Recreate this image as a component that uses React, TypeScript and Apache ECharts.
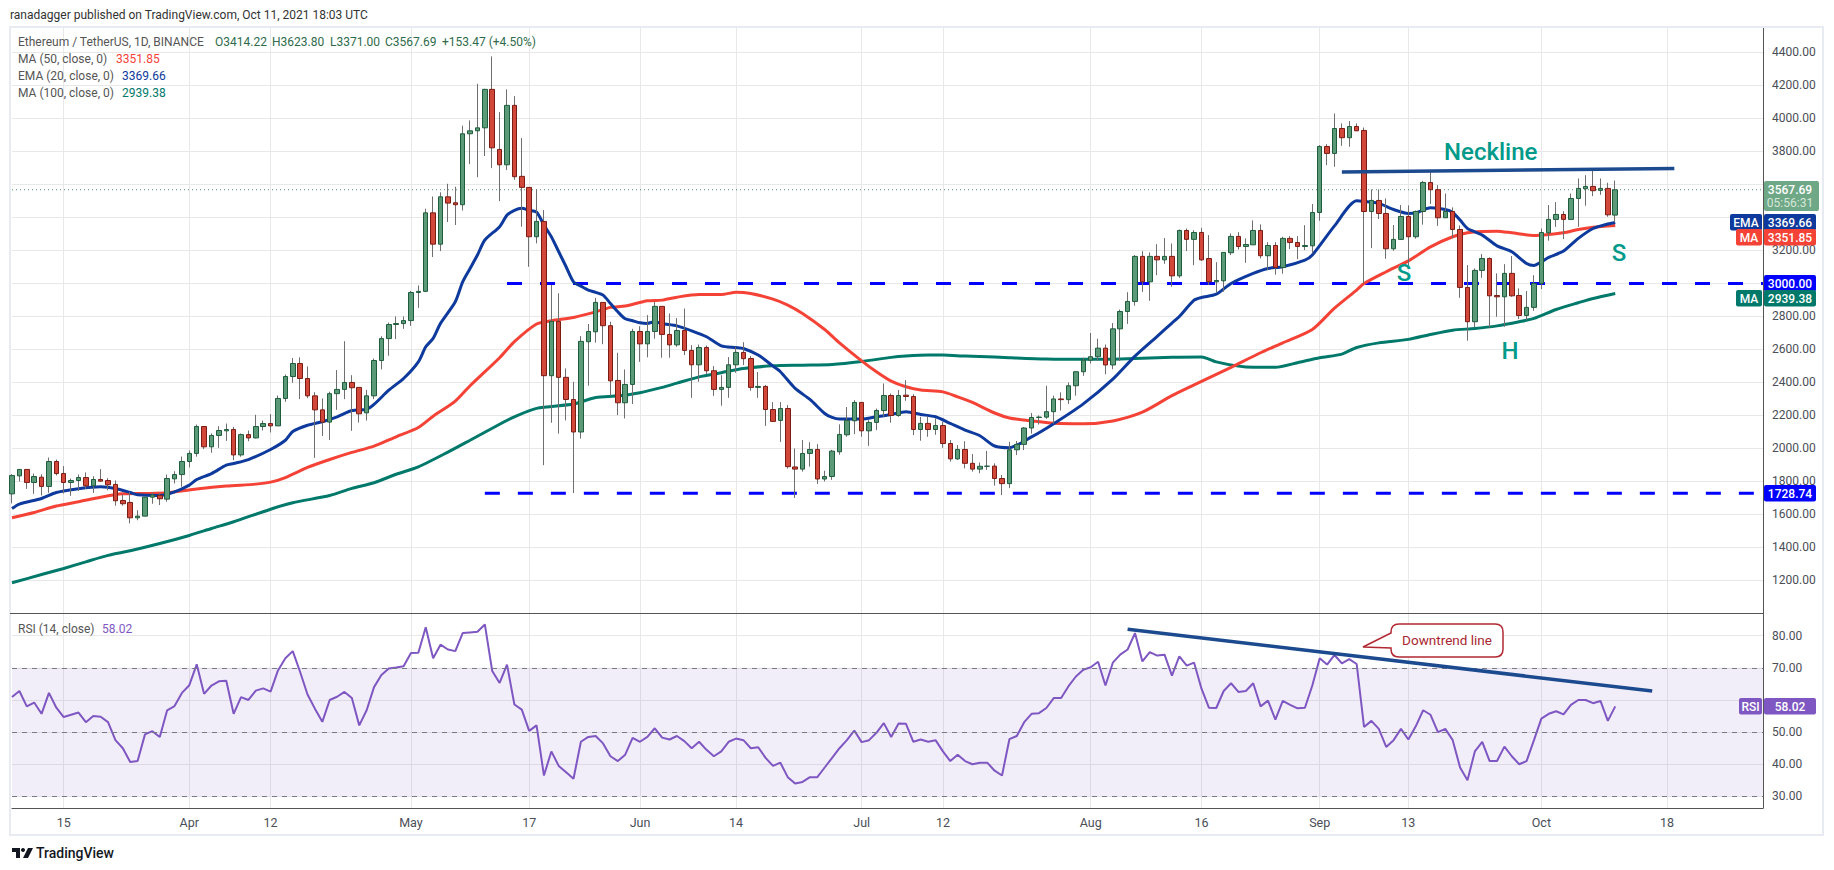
import React, { useEffect, useRef } from 'react';
import * as echarts from 'echarts';

// one row per day from 8 Mar 2021: open, close, low, high
const ohlc: number[][] = [
  [1725, 1836, 1667, 1844], [1834, 1873, 1800, 1875], [1873, 1794, 1755, 1873], [1794, 1830, 1725, 1848], [1826, 1770, 1715, 1844],
  [1770, 1921, 1731, 1945], [1921, 1848, 1836, 1933], [1848, 1794, 1727, 1893], [1794, 1806, 1713, 1818], [1806, 1824, 1743, 1842],
  [1824, 1774, 1754, 1855], [1774, 1812, 1731, 1832], [1812, 1802, 1798, 1875], [1806, 1780, 1747, 1820], [1782, 1683, 1653, 1806],
  [1685, 1665, 1653, 1723], [1673, 1580, 1546, 1737], [1580, 1590, 1565, 1626], [1590, 1705, 1590, 1705], [1705, 1718, 1665, 1733],
  [1716, 1695, 1657, 1731], [1693, 1818, 1677, 1842], [1816, 1842, 1788, 1862], [1842, 1921, 1768, 1951], [1921, 1970, 1885, 1988],
  [1970, 2133, 1950, 2145], [2133, 2010, 1996, 2133], [2010, 2079, 1974, 2091], [2079, 2109, 2004, 2135], [2107, 2115, 2046, 2151],
  [2115, 1961, 1929, 2131], [1961, 2084, 1950, 2091], [2084, 2064, 2044, 2109], [2064, 2133, 2060, 2204], [2133, 2151, 2109, 2169],
  [2151, 2137, 2097, 2208], [2137, 2303, 2137, 2321], [2303, 2436, 2283, 2448], [2436, 2515, 2398, 2548], [2515, 2424, 2299, 2552],
  [2424, 2319, 2305, 2497], [2319, 2234, 1943, 2341], [2234, 2160, 2076, 2303], [2160, 2332, 2051, 2344], [2332, 2358, 2234, 2475],
  [2358, 2400, 2299, 2650], [2400, 2368, 2107, 2444], [2370, 2210, 2157, 2370], [2216, 2319, 2169, 2355], [2319, 2533, 2299, 2545],
  [2533, 2666, 2479, 2680], [2666, 2751, 2562, 2763], [2751, 2757, 2663, 2800], [2757, 2775, 2725, 2800], [2775, 2945, 2743, 2955],
  [2945, 2952, 2852, 2988], [2952, 3428, 2950, 3453], [3428, 3238, 3160, 3527], [3238, 3525, 3196, 3552], [3525, 3487, 3372, 3604],
  [3489, 3477, 3354, 3586], [3477, 3907, 3442, 3956], [3907, 3925, 3723, 3988], [3925, 3943, 3644, 4210], [3943, 4176, 3772, 4180],
  [4176, 3822, 3699, 4376], [3812, 3719, 3499, 4038], [3719, 4079, 3687, 4176], [4079, 3647, 3628, 4135], [3649, 3582, 3344, 3881],
  [3582, 3283, 3101, 3582], [3283, 3376, 3243, 3570], [3376, 2441, 1899, 3445], [2441, 2770, 2156, 2990], [2770, 2431, 2090, 2940],
  [2431, 2297, 2170, 2485], [2297, 2100, 1730, 2404], [2100, 2649, 2060, 2681], [2647, 2709, 2380, 2754], [2707, 2885, 2641, 2913],
  [2885, 2744, 2632, 2885], [2744, 2410, 2319, 2768], [2412, 2277, 2202, 2580], [2277, 2388, 2182, 2479], [2388, 2709, 2269, 2725],
  [2709, 2634, 2525, 2741], [2634, 2709, 2552, 2808], [2709, 2861, 2665, 2888], [2861, 2691, 2550, 2861], [2691, 2628, 2550, 2818],
  [2628, 2715, 2616, 2790], [2715, 2594, 2566, 2848], [2594, 2507, 2307, 2626], [2507, 2612, 2404, 2630], [2612, 2471, 2450, 2624],
  [2471, 2358, 2319, 2499], [2358, 2370, 2259, 2444], [2370, 2507, 2307, 2554], [2507, 2582, 2459, 2616], [2582, 2544, 2505, 2644],
  [2545, 2370, 2350, 2560], [2370, 2376, 2307, 2463], [2376, 2236, 2137, 2384], [2236, 2164, 2164, 2281], [2170, 2242, 2040, 2281],
  [2242, 1890, 1878, 2263], [1888, 1875, 1700, 2000], [1875, 1970, 1860, 2051], [1970, 1994, 1890, 2038], [1994, 1815, 1785, 2026],
  [1815, 1830, 1800, 1865], [1830, 1984, 1810, 1992], [1980, 2085, 1962, 2146], [2083, 2170, 2071, 2251], [2168, 2279, 2087, 2293],
  [2279, 2107, 2071, 2279], [2107, 2158, 2016, 2172], [2158, 2230, 2111, 2242], [2230, 2321, 2192, 2394], [2321, 2200, 2156, 2333],
  [2200, 2321, 2192, 2354], [2323, 2315, 2289, 2414], [2315, 2115, 2081, 2329], [2115, 2152, 2047, 2192], [2152, 2115, 2071, 2196],
  [2115, 2139, 2083, 2182], [2139, 2030, 2004, 2162], [2030, 1937, 1920, 2051], [1937, 1994, 1930, 2020], [1994, 1910, 1880, 2044],
  [1910, 1875, 1860, 1966], [1875, 1892, 1850, 1915], [1892, 1893, 1870, 1985], [1893, 1818, 1775, 1910], [1818, 1787, 1717, 1840],
  [1787, 1992, 1760, 2040], [1992, 2025, 1960, 2045], [2025, 2124, 1990, 2130], [2124, 2188, 2090, 2215], [2188, 2190, 2145, 2200],
  [2190, 2223, 2180, 2380], [2223, 2300, 2150, 2320], [2300, 2296, 2230, 2340], [2296, 2380, 2270, 2400], [2380, 2465, 2320, 2470],
  [2465, 2535, 2440, 2550], [2535, 2556, 2515, 2700], [2556, 2608, 2530, 2665], [2608, 2506, 2450, 2630], [2506, 2725, 2480, 2760],
  [2725, 2830, 2530, 2842], [2830, 2891, 2755, 2947], [2891, 3164, 2865, 3172], [3164, 3010, 2949, 3196], [3010, 3164, 2895, 3188],
  [3164, 3143, 3050, 3238], [3143, 3164, 3119, 3275], [3164, 3046, 2980, 3242], [3046, 3321, 3034, 3327], [3321, 3267, 3196, 3333],
  [3267, 3309, 3111, 3323], [3309, 3143, 3137, 3337], [3151, 3010, 2990, 3293], [3010, 3018, 2945, 3129], [3016, 3188, 2950, 3188],
  [3186, 3285, 3172, 3303], [3285, 3224, 3206, 3311], [3224, 3236, 3125, 3273], [3234, 3321, 3234, 3382], [3321, 3168, 3152, 3358],
  [3168, 3230, 3081, 3250], [3230, 3097, 3053, 3250], [3097, 3273, 3059, 3283], [3273, 3248, 3208, 3287], [3248, 3224, 3147, 3287],
  [3224, 3230, 3202, 3353], [3228, 3430, 3182, 3481], [3430, 3830, 3380, 3838], [3830, 3788, 3717, 3844], [3788, 3939, 3707, 4030],
  [3939, 3883, 3834, 3970], [3883, 3951, 3828, 3984], [3951, 3925, 3925, 3970], [3927, 3436, 3000, 3945], [3436, 3503, 3214, 3570],
  [3503, 3424, 3390, 3570], [3424, 3210, 3149, 3515], [3210, 3267, 3198, 3354], [3267, 3406, 3263, 3475], [3406, 3283, 3109, 3473],
  [3283, 3436, 3271, 3442], [3436, 3612, 3356, 3622], [3612, 3568, 3481, 3677], [3568, 3398, 3349, 3596], [3398, 3436, 3398, 3545],
  [3436, 3327, 3275, 3461], [3327, 2976, 2913, 3351], [2976, 2768, 2653, 3111], [2768, 3079, 2733, 3091], [3079, 3151, 3034, 3178],
  [3151, 2925, 2733, 3158], [2927, 2919, 2798, 3061], [2919, 3061, 2737, 3117], [3061, 2925, 2919, 3166], [2927, 2806, 2784, 2970],
  [2806, 2855, 2778, 2954], [2855, 3000, 2834, 3050], [3000, 3309, 2966, 3333], [3307, 3388, 3259, 3475], [3388, 3418, 3343, 3493],
  [3418, 3388, 3269, 3438], [3388, 3515, 3388, 3545], [3515, 3576, 3343, 3636], [3574, 3588, 3471, 3656], [3588, 3562, 3529, 3697],
  [3564, 3576, 3537, 3636], [3576, 3416, 3404, 3610], [3414.22, 3567.69, 3371, 3623.8],
];

// [day index, value] read along each moving average
const ema20: number[][] = [
  [0, 1636], [1, 1663], [4, 1697], [6, 1733], [9, 1756], [12, 1768], [14, 1758], [16, 1733], [17, 1719], [20, 1715], [22, 1737], [24, 1778],
  [25, 1812], [27, 1848], [29, 1899], [30, 1909], [32, 1933], [35, 1994], [37, 2050], [38, 2103], [40, 2141], [42, 2162], [44, 2192], [46, 2230],
  [48, 2238], [49, 2267], [51, 2353], [53, 2424], [55, 2525], [56, 2616], [57, 2667], [58, 2758], [60, 2889], [61, 3010], [62, 3091], [63, 3172],
  [64, 3263], [66, 3344], [67, 3414], [68, 3443], [69, 3455], [70, 3443], [71, 3432], [72, 3354], [73, 3283], [74, 3192], [75, 3101], [76, 3010],
  [77, 2984], [78, 2960], [79, 2946], [80, 2929], [81, 2879], [82, 2828], [83, 2786], [84, 2774], [85, 2762], [86, 2758], [87, 2768], [88, 2756],
  [90, 2743], [92, 2713], [94, 2677], [96, 2622], [98, 2612], [99, 2606], [101, 2566], [103, 2499], [104, 2465], [106, 2364], [108, 2297], [110, 2212],
  [111, 2188], [112, 2178], [115, 2178], [117, 2192], [119, 2206], [121, 2222], [123, 2206], [125, 2192], [127, 2152], [129, 2111], [131, 2077],
  [133, 2015], [135, 2005], [138, 2070], [141, 2150], [145, 2270], [149, 2420], [152, 2560], [155, 2680], [157, 2760], [158, 2800], [160, 2899],
  [161, 2915], [163, 2935], [165, 3000], [168, 3061], [170, 3091], [172, 3101], [175, 3141], [176, 3172], [179, 3349], [182, 3501], [183, 3497],
  [185, 3485], [187, 3448], [189, 3424], [190, 3428], [192, 3458], [194, 3448], [195, 3430], [196, 3384], [197, 3333], [199, 3293], [201, 3228],
  [203, 3192], [205, 3121], [206, 3109], [207, 3131], [208, 3158], [210, 3196], [212, 3273], [214, 3333], [216, 3360], [217, 3369.66],
];
const ma50: number[][] = [
  [0, 1580], [3, 1612], [6, 1651], [9, 1677], [12, 1705], [15, 1725], [18, 1727], [21, 1731], [25, 1754], [29, 1772], [33, 1784], [35, 1796],
  [37, 1824], [40, 1885], [43, 1933], [46, 1976], [49, 2014], [52, 2071], [55, 2127], [57, 2195], [60, 2287], [62, 2380], [66, 2550], [68, 2647],
  [71, 2754], [73, 2774], [76, 2794], [79, 2828], [81, 2855], [83, 2863], [86, 2895], [88, 2899], [90, 2917], [93, 2933], [96, 2933], [98, 2947],
  [100, 2939], [103, 2905], [105, 2869], [107, 2818], [110, 2721], [112, 2640], [115, 2531], [117, 2465], [119, 2408], [121, 2374], [123, 2354],
  [126, 2343], [128, 2313], [130, 2279], [133, 2215], [135, 2185], [138, 2167], [141, 2153], [145, 2150], [149, 2167], [153, 2220], [157, 2320],
  [160, 2385], [165, 2492], [169, 2580], [172, 2640], [176, 2721], [179, 2850], [182, 2960], [183, 3000], [186, 3071], [189, 3137], [192, 3222],
  [195, 3283], [197, 3307], [199, 3315], [201, 3317], [203, 3307], [206, 3291], [208, 3297], [210, 3307], [212, 3327], [214, 3341], [217, 3351.85],
];
const ma100: number[][] = [
  [0, 1186], [4, 1236], [7, 1273], [10, 1313], [13, 1352], [16, 1380], [20, 1424], [24, 1473], [27, 1515], [30, 1556], [35, 1632], [38, 1671],
  [43, 1715], [46, 1758], [49, 1792], [52, 1844], [55, 1889], [59, 1978], [62, 2050], [66, 2147], [68, 2192], [71, 2243], [76, 2269], [79, 2309],
  [82, 2319], [85, 2338], [88, 2370], [90, 2396], [93, 2434], [96, 2459], [99, 2485], [103, 2501], [107, 2505], [111, 2509], [115, 2527], [119, 2552],
  [121, 2560], [124, 2566], [126, 2566], [129, 2560], [131, 2558], [135, 2550], [140, 2542], [145, 2540], [149, 2541], [157, 2553], [161, 2555],
  [163, 2525], [166, 2499], [168, 2492], [171, 2492], [174, 2520], [177, 2550], [180, 2572], [182, 2612], [185, 2640], [189, 2661], [192, 2691],
  [195, 2717], [198, 2727], [201, 2743], [204, 2768], [206, 2788], [209, 2842], [212, 2883], [214, 2909], [217, 2939.38],
];

const rsi: number[] = [
  60.9, 62.8, 58, 59.2, 55.7, 62.2, 57.6, 54.7, 55.4, 56.1,
  53.1, 55, 54.8, 53.1, 47.5, 45, 40.7, 41, 49.3, 50.3,
  48.5, 56.8, 58.1, 62.2, 64.6, 71.1, 61.9, 64.5, 65.8, 66,
  55.7, 60.9, 60, 62.9, 63.6, 62.6, 69.2, 73, 75.2, 68.7,
  61.7, 57.3, 53.2, 60, 61, 62.5, 60.6, 52.1, 56.8, 64,
  67.8, 69.8, 70.1, 70.5, 74.6, 74.7, 82.6, 73, 77.2, 75.7,
  75.2, 80.8, 81, 81.2, 83.5, 69, 65.3, 71, 58.6, 57,
  50.4, 52.1, 36.5, 44, 39.5, 37.5, 35.5, 47, 48.5, 48.8,
  46.5, 42.5, 41, 43, 48.2, 47, 48.5, 51.2, 48.3, 47.7,
  48.8, 47.2, 45, 47, 44.5, 42.5, 44, 47, 48, 47.5,
  45, 45.3, 42, 39.5, 40.5, 36, 34, 34.5, 36, 36,
  39, 42, 45, 47.5, 50.5, 46.9, 47.5, 49.8, 52.8, 48.5,
  52.7, 52.6, 47, 47.7, 47, 47.5, 44, 41, 43, 41,
  40, 40.5, 40.5, 38, 36.5, 47.8, 48.8, 53.1, 55.7, 55.9,
  57.5, 60.6, 60.6, 64.3, 67.3, 69.4, 70.2, 71.9, 64.5, 71.6,
  74.1, 75.7, 80.8, 72, 74.9, 73.8, 74.1, 67.6, 73.6, 70.7,
  71.6, 63.5, 57.6, 57.5, 62.8, 65.2, 62.5, 62.8, 65.2, 58,
  59.8, 53.9, 59.7, 58.5, 57.4, 57.6, 64.5, 73, 71, 74,
  71.4, 72.7, 71.2, 51.6, 53.5, 51, 45.4, 47.5, 51, 47.7,
  51.8, 56.8, 55.4, 50, 51, 47.5, 39, 35, 44, 47,
  41, 41, 45.5, 42.5, 40, 41, 47.5, 54.2, 55.7, 56.5,
  55.5, 58.5, 60, 60, 59, 59.7, 53.5, 58.02,
];

const neckline = [[180, 3676], [225, 3697]];
const downtrend = [[151, 82], [222, 62.8]];
const lastPrice = 3567.69;
const support = 3000;
const lowSupport = 1728.74;

const tickDays = [7, 24, 35, 54, 70, 85, 98, 115, 126, 146, 161, 177, 189, 207, 224];
const tickLabels = ['15', 'Apr', '12', 'May', '17', 'Jun', '14', 'Jul', '12', 'Aug', '16', 'Sep', '13', 'Oct', '18'];
const rsiTicks = [30, 40, 50, 60, 70, 80];
// these scale labels sit fully behind the coloured price boxes
const rsiLabels = [30, 40, 50, 70, 80];
const coveredPrices = [3600, 3400, 3000];

const dayCount = 238;
const days: string[] = [];
for (let i = 0; i < dayCount; i++) {
  days.push(new Date(Date.UTC(2021, 2, 8 + i)).toISOString().slice(0, 10));
}
const lastDay = dayCount - 1;

const FONT = 'Roboto, sans-serif';
const UP = '#5b9a78';
const UP_EDGE = '#1f5c3c';
const DOWN = '#d1483a';
const DOWN_EDGE = '#7b1c14';
const WICK = '#6f6f6f';
const GRID = '#e8e8e8';
const TEAL = '#009a8a';
const BLUE = '#0d3a9c';
const RED = '#f44336';
const GREEN = '#00796b';
const PURPLE = '#7e57c2';
const TREND = '#1c4a8e';

echarts.graphic.registerShape(
  'callout',
  echarts.graphic.extendPath(
    'M1399 624H1495Q1503 624 1503 632V649Q1503 657 1495 657H1399Q1391 657 1391 649V648L1363 647L1391 633V632Q1391 624 1399 624Z',
    {}
  )
);
echarts.graphic.registerShape(
  'tvlogo',
  echarts.graphic.extendPath('M0 1H8V11H4V5H0ZM11 1A2 2 0 1 0 11.01 1ZM16 1H21L16 11H11Z', {})
);

const txt = (text: string, x: number, y: number, fill: string, size = 12, extra: any = {}) => ({
  type: 'text',
  z: 20,
  style: { text, x, y, fill, font: `${extra.weight || 'normal'} ${size}px ${FONT}`, textVerticalAlign: 'middle', textAlign: extra.align || 'left' },
});

// coloured box at the price scale, with optional name tag on its left
const priceTag = (value: string, top: number, color: string, name?: string, tagLeft?: number) => {
  const out: any[] = [
    { type: 'rect', z: 19, shape: { x: 1764, y: top, width: 52, height: 16.5, r: 2 }, style: { fill: color } },
    txt(value, 1790, top + 8.5, '#ffffff', 12, { align: 'center', weight: 500 }),
  ];
  if (name) {
    out.push({ type: 'rect', z: 19, shape: { x: tagLeft, y: top, width: 1762 - (tagLeft as number), height: 16.5, r: 2 }, style: { fill: color } });
    out.push(txt(name, (tagLeft as number + 1762) / 2, top + 8.5, '#ffffff', 12, { align: 'center', weight: 500 }));
  }
  return out;
};

const hiddenTick = { show: false };

const App: React.FC = () => {
  const chartRef = useRef<HTMLDivElement>(null);

  useEffect(() => {
    document.body.style.margin = '0';
    if (!chartRef.current) return;
    const chart = echarts.init(chartRef.current, undefined, { renderer: 'svg' });

    const isTick = (index: number) => tickDays.includes(index);
    const xAxisBase = {
      type: 'category',
      data: days,
      boundaryGap: false,
      axisTick: hiddenTick,
      axisLine: { show: false },
      splitLine: { show: true, interval: isTick, lineStyle: { color: GRID, width: 1 } },
    };
    const linePart = (name: string, data: any, color: string, width = 3, z = 3, smooth: any = false) => ({
      name,
      type: 'line',
      data,
      showSymbol: false,
      symbol: 'none',
      silent: true,
      z,
      smooth,
      lineStyle: { color, width },
    });

    chart.setOption({
      animation: false,
      backgroundColor: '#ffffff',
      grid: [
        { left: 12, top: 27, width: 1751, height: 586.5 },
        { left: 12, top: 613.5, width: 1751, height: 194.5 },
      ],
      xAxis: [
        { ...xAxisBase, gridIndex: 0, axisLabel: { show: false } },
        {
          ...xAxisBase,
          gridIndex: 1,
          axisLine: { show: true, lineStyle: { color: '#555555', width: 1 } },
          axisLabel: {
            interval: isTick,
            color: '#4a4e57',
            fontFamily: FONT,
            fontSize: 12.5,
            margin: 8,
            formatter: (_: string, index: number) => tickLabels[tickDays.indexOf(index)] ?? '',
          },
        },
      ],
      yAxis: [
        {
          type: 'value',
          gridIndex: 0,
          position: 'right',
          min: 1000,
          max: 4554,
          interval: 200,
          axisLine: { show: true, lineStyle: { color: '#555555', width: 1 } },
          axisTick: hiddenTick,
          axisLabel: {
            color: '#4a4e57',
            fontFamily: FONT,
            fontSize: 12,
            margin: 9,
            showMinLabel: false,
            showMaxLabel: false,
            formatter: (v: number) => (coveredPrices.includes(v) ? '' : v.toFixed(2)),
          },
          splitLine: { show: true, lineStyle: { color: GRID, width: 1 } },
        },
        {
          type: 'value',
          gridIndex: 1,
          position: 'right',
          min: 26.4,
          max: 86.9,
          axisLine: { show: true, lineStyle: { color: '#555555', width: 1 } },
          axisTick: { show: false, customValues: rsiTicks },
          axisLabel: { customValues: rsiLabels, color: '#4a4e57', fontFamily: FONT, fontSize: 12, margin: 9, formatter: (v: number) => v.toFixed(2) },
          splitLine: { show: true, lineStyle: { color: GRID, width: 1 } },
        },
      ],
      series: [
        {
          ...linePart('Last price', [[0, lastPrice], [lastDay, lastPrice]], '#53906f', 1, 2),
          lineStyle: { color: '#53906f', width: 1, type: [1, 3] },
        },
        {
          ...linePart('3000 level', [[67, support], [lastDay, support]], '#0000ff', 3, 2),
          lineStyle: { color: '#0000ff', width: 3, type: [15, 18] },
        },
        {
          ...linePart('1728 level', [[64, lowSupport], [lastDay, lowSupport]], '#0000ff', 3, 2),
          lineStyle: { color: '#0000ff', width: 3, type: [15, 18] },
        },
        linePart('MA 100', ma100, GREEN, 3, 3, 0.25),
        linePart('MA 50', ma50, RED, 3, 3, 0.25),
        linePart('EMA 20', ema20, BLUE, 3, 3, 0.25),
        {
          name: 'Wicks',
          type: 'candlestick',
          data: ohlc,
          barWidth: 1,
          silent: true,
          z: 4,
          itemStyle: { color: WICK, color0: WICK, borderColor: WICK, borderColor0: WICK, borderWidth: 1 },
        },
        {
          name: 'ETHUSDT',
          type: 'candlestick',
          data: ohlc.map(([o, c]) => [o, c, Math.min(o, c), Math.max(o, c)]),
          barWidth: 5,
          silent: true,
          z: 5,
          itemStyle: { color: UP, color0: DOWN, borderColor: UP_EDGE, borderColor0: DOWN_EDGE, borderWidth: 1 },
        },
        linePart('Neckline', neckline, TREND, 3.5, 6),
        {
          ...linePart('RSI', rsi, PURPLE, 2, 4),
          xAxisIndex: 1,
          yAxisIndex: 1,
          markArea: {
            silent: true,
            z: 1,
            itemStyle: { color: 'rgba(126, 87, 194, 0.1)' },
            data: [[{ yAxis: 30 }, { yAxis: 70 }]],
          },
          markLine: {
            silent: true,
            symbol: 'none',
            label: { show: false },
            lineStyle: { color: '#787b86', width: 1, type: [5, 5] },
            data: [{ yAxis: 70 }, { yAxis: 50 }, { yAxis: 30 }],
          },
        },
        { ...linePart('Downtrend', downtrend, TREND, 3.5, 6), xAxisIndex: 1, yAxisIndex: 1 },
      ],
      graphic: [
        { type: 'rect', z: 1, shape: { x: 10, y: 27, width: 1813, height: 808 }, style: { fill: 'none', stroke: '#e9ebf2', lineWidth: 2 } },
        { type: 'line', z: 8, shape: { x1: 10, y1: 613.5, x2: 1763, y2: 613.5 }, style: { stroke: '#555555', lineWidth: 1 } },
        txt('ranadagger published on TradingView.com, Oct 11, 2021 18:03 UTC', 10, 15, '#333333'),
        txt('Ethereum / TetherUS, 1D, BINANCE', 18, 42, '#555555'),
        txt('O3414.22', 215, 42, '#2f6b4b'),
        txt('H3623.80', 272, 42, '#2f6b4b'),
        txt('L3371.00', 330, 42, '#2f6b4b'),
        txt('C3567.69', 385, 42, '#2f6b4b'),
        txt('+153.47 (+4.50%)', 442, 42, '#2f6b4b'),
        txt('MA (50, close, 0)', 18, 59, '#555555'),
        txt('3351.85', 116, 59, RED),
        txt('EMA (20, close, 0)', 18, 76, '#555555'),
        txt('3369.66', 122, 76, BLUE),
        txt('MA (100, close, 0)', 18, 93, '#555555'),
        txt('2939.38', 122, 93, GREEN),
        txt('RSI (14, close)', 18, 629, '#555555'),
        txt('58.02', 102, 629, PURPLE),
        txt('Neckline', 1444, 152, TEAL, 24, { weight: 500 }),
        txt('S', 1404, 273, TEAL, 24, { weight: 500, align: 'center' }),
        txt('S', 1619, 253, TEAL, 24, { weight: 500, align: 'center' }),
        txt('H', 1510, 351, TEAL, 24, { weight: 500, align: 'center' }),
        { type: 'callout', z: 18, style: { fill: '#ffffff', stroke: '#b22833', lineWidth: 1.5 } },
        txt('Downtrend line', 1447, 640, '#a8262f', 13.5, { align: 'center' }),
        { type: 'rect', z: 19, shape: { x: 1764, y: 181, width: 55, height: 30, r: 2 }, style: { fill: '#6fa886' } },
        txt('3567.69', 1790, 190, '#ffffff', 12, { align: 'center', weight: 500 }),
        txt('05:56:31', 1790, 203, '#d5e6da', 12, { align: 'center' }),
        ...priceTag('3369.66', 214, BLUE, 'EMA', 1730),
        ...priceTag('3351.85', 229, RED, 'MA', 1736),
        ...priceTag('3000.00', 275, '#0000ff'),
        ...priceTag('2939.38', 290, GREEN, 'MA', 1736),
        ...priceTag('1728.74', 485, '#0000ff'),
        ...priceTag('58.02', 698, PURPLE, 'RSI', 1739),
        { type: 'tvlogo', z: 20, x: 12, y: 847, style: { fill: '#131722' } },
        txt('TradingView', 36, 853, '#131722', 14, { weight: 500 }),
      ],
    });

    return () => {
      chart.dispose();
    };
  }, []);

  return <div ref={chartRef} style={{ width: 1834, height: 870 }}></div>;
};

export default App;
